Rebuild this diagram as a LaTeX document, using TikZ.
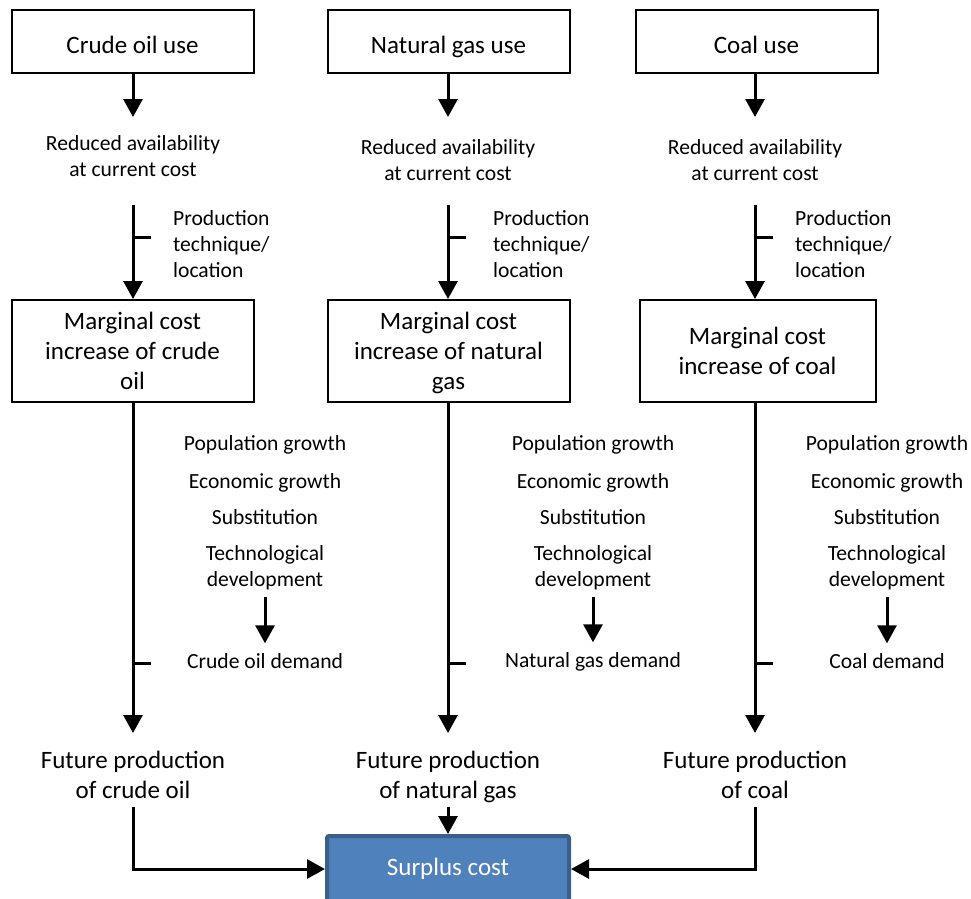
\documentclass[tikz,border=0pt]{standalone}
\usepackage{fontspec}
\setmainfont{Carlito}
\usetikzlibrary{arrows.meta}
\definecolor{surfill}{HTML}{4F81BD}
\definecolor{surdraw}{HTML}{3A5F8B}
\begin{document}
\begin{tikzpicture}[x=1pt,y=-1pt,
  bigtxt/.style={font=\fontsize{25}{30}\selectfont},
  smalltxt/.style={font=\fontsize{21.6}{25.8}\selectfont},
  topbox/.style={draw,line width=2pt,minimum width=242pt,minimum height=63pt,inner sep=0pt,bigtxt,text height=25pt,text depth=2pt},
  mcbox/.style={draw,line width=2pt,minimum width=242pt,minimum height=102pt,inner sep=0pt,bigtxt,align=center,text depth=-3pt},
  onetxt/.style={inner sep=0pt,smalltxt,text height=16pt,text depth=5pt},
  txt/.style={inner sep=0pt,smalltxt,align=center,execute at begin node=\strut,execute at end node=\strut},
  prodtxt/.style={inner sep=0pt,smalltxt,align=left,anchor=west,execute at begin node=\strut,execute at end node=\strut},
  futtxt/.style={inner sep=0pt,bigtxt,align=center,execute at begin node=\strut,execute at end node=\strut},
  arr/.style={line width=3pt,-{Triangle[width=19pt,length=18pt]}},
  tickline/.style={line width=3pt},
  surbox/.style={draw=surdraw,fill=surfill,line width=4pt,rounded corners=2pt,minimum width=242pt,minimum height=66pt,inner sep=0pt,text=white,bigtxt,text height=17pt,text depth=5pt}
]
\useasboundingbox (0,0) rectangle (971,898);

% ---------- column 1 ----------
\node[topbox] (top1) at (132.5,41.5) {Crude oil use};
\node[txt] (red1) at (133,160) {Reduced availability\\at current cost};
\node[mcbox] (mc1) at (132.5,351) {Marginal cost\\increase of crude\\oil};
\node[prodtxt] (prod1) at (173,248) {Production\\technique/\\location};
\node[onetxt] (pop1) at (265,445) {Population growth};
\node[onetxt] (eco1) at (265,483) {Economic growth};
\node[onetxt] (sub1) at (265,519) {Substitution};
\node[txt] (tech1) at (265,570) {Technological\\development};
\node[onetxt] (dem1) at (265,663) {Crude oil demand};
\node[futtxt] (fut1) at (133,779) {Future production\\of crude oil};

% ---------- column 2 ----------
\node[topbox] (top2) at (448.5,41.5) {Natural gas use};
\node[txt] (red2) at (448,164) {Reduced availability\\at current cost};
\node[mcbox] (mc2) at (448.5,351) {Marginal cost\\increase of natural\\gas};
\node[prodtxt] (prod2) at (493,248) {Production\\technique/\\location};
\node[onetxt] (pop2) at (593,445) {Population growth};
\node[onetxt] (eco2) at (593,483) {Economic growth};
\node[onetxt] (sub2) at (593,519) {Substitution};
\node[txt] (tech2) at (593,570) {Technological\\development};
\node[onetxt] (dem2) at (593,662) {Natural gas demand};
\node[futtxt] (fut2) at (448,779) {Future production\\of natural gas};

% ---------- column 3 ----------
\node[topbox] (top3) at (756.5,41.5) {Coal use};
\node[txt] (red3) at (755,164) {Reduced availability\\at current cost};
\node[mcbox,minimum width=236pt] (mc3) at (757.5,351) {Marginal cost\\increase of coal};
\node[prodtxt] (prod3) at (795,248) {Production\\technique/\\location};
\node[onetxt] (pop3) at (887,445) {Population growth};
\node[onetxt] (eco3) at (887,483) {Economic growth};
\node[onetxt] (sub3) at (887,519) {Substitution};
\node[txt] (tech3) at (887,570) {Technological\\development};
\node[onetxt] (dem3) at (887,663) {Coal demand};
\node[futtxt] (fut3) at (755,779) {Future production\\of coal};

% ---------- surplus ----------
\node[surbox] (sur) at (448,869) {Surplus cost};

% ---------- connectors ----------
\foreach \i/\cx in {1/133,2/448,3/755}{
  \coordinate (a\i) at (\cx,117);
  \draw[arr] (top\i.south -| a\i) -- (a\i);
  \coordinate (b\i) at (\cx,205);
  \draw[arr] (b\i) -- (mc\i.north -| b\i);
  \coordinate (tp\i) at (\cx,237);
  \draw[tickline] (tp\i) -- ++(18,0);
  \coordinate (c\i) at (\cx,733);
  \draw[arr] (mc\i.south -| c\i) -- (c\i);
  \coordinate (td\i) at (\cx,663);
  \draw[tickline] (td\i) -- ++(18,0);
  \draw[arr,shorten <=3pt,shorten >=9pt] (tech\i.south) -- (dem\i.north);
}
\draw[arr] (fut1.south) |- (sur.west);
\draw[arr] (fut2.south) -- (sur.north);
\draw[arr] (fut3.south) |- (sur.east);
\end{tikzpicture}
\end{document}
